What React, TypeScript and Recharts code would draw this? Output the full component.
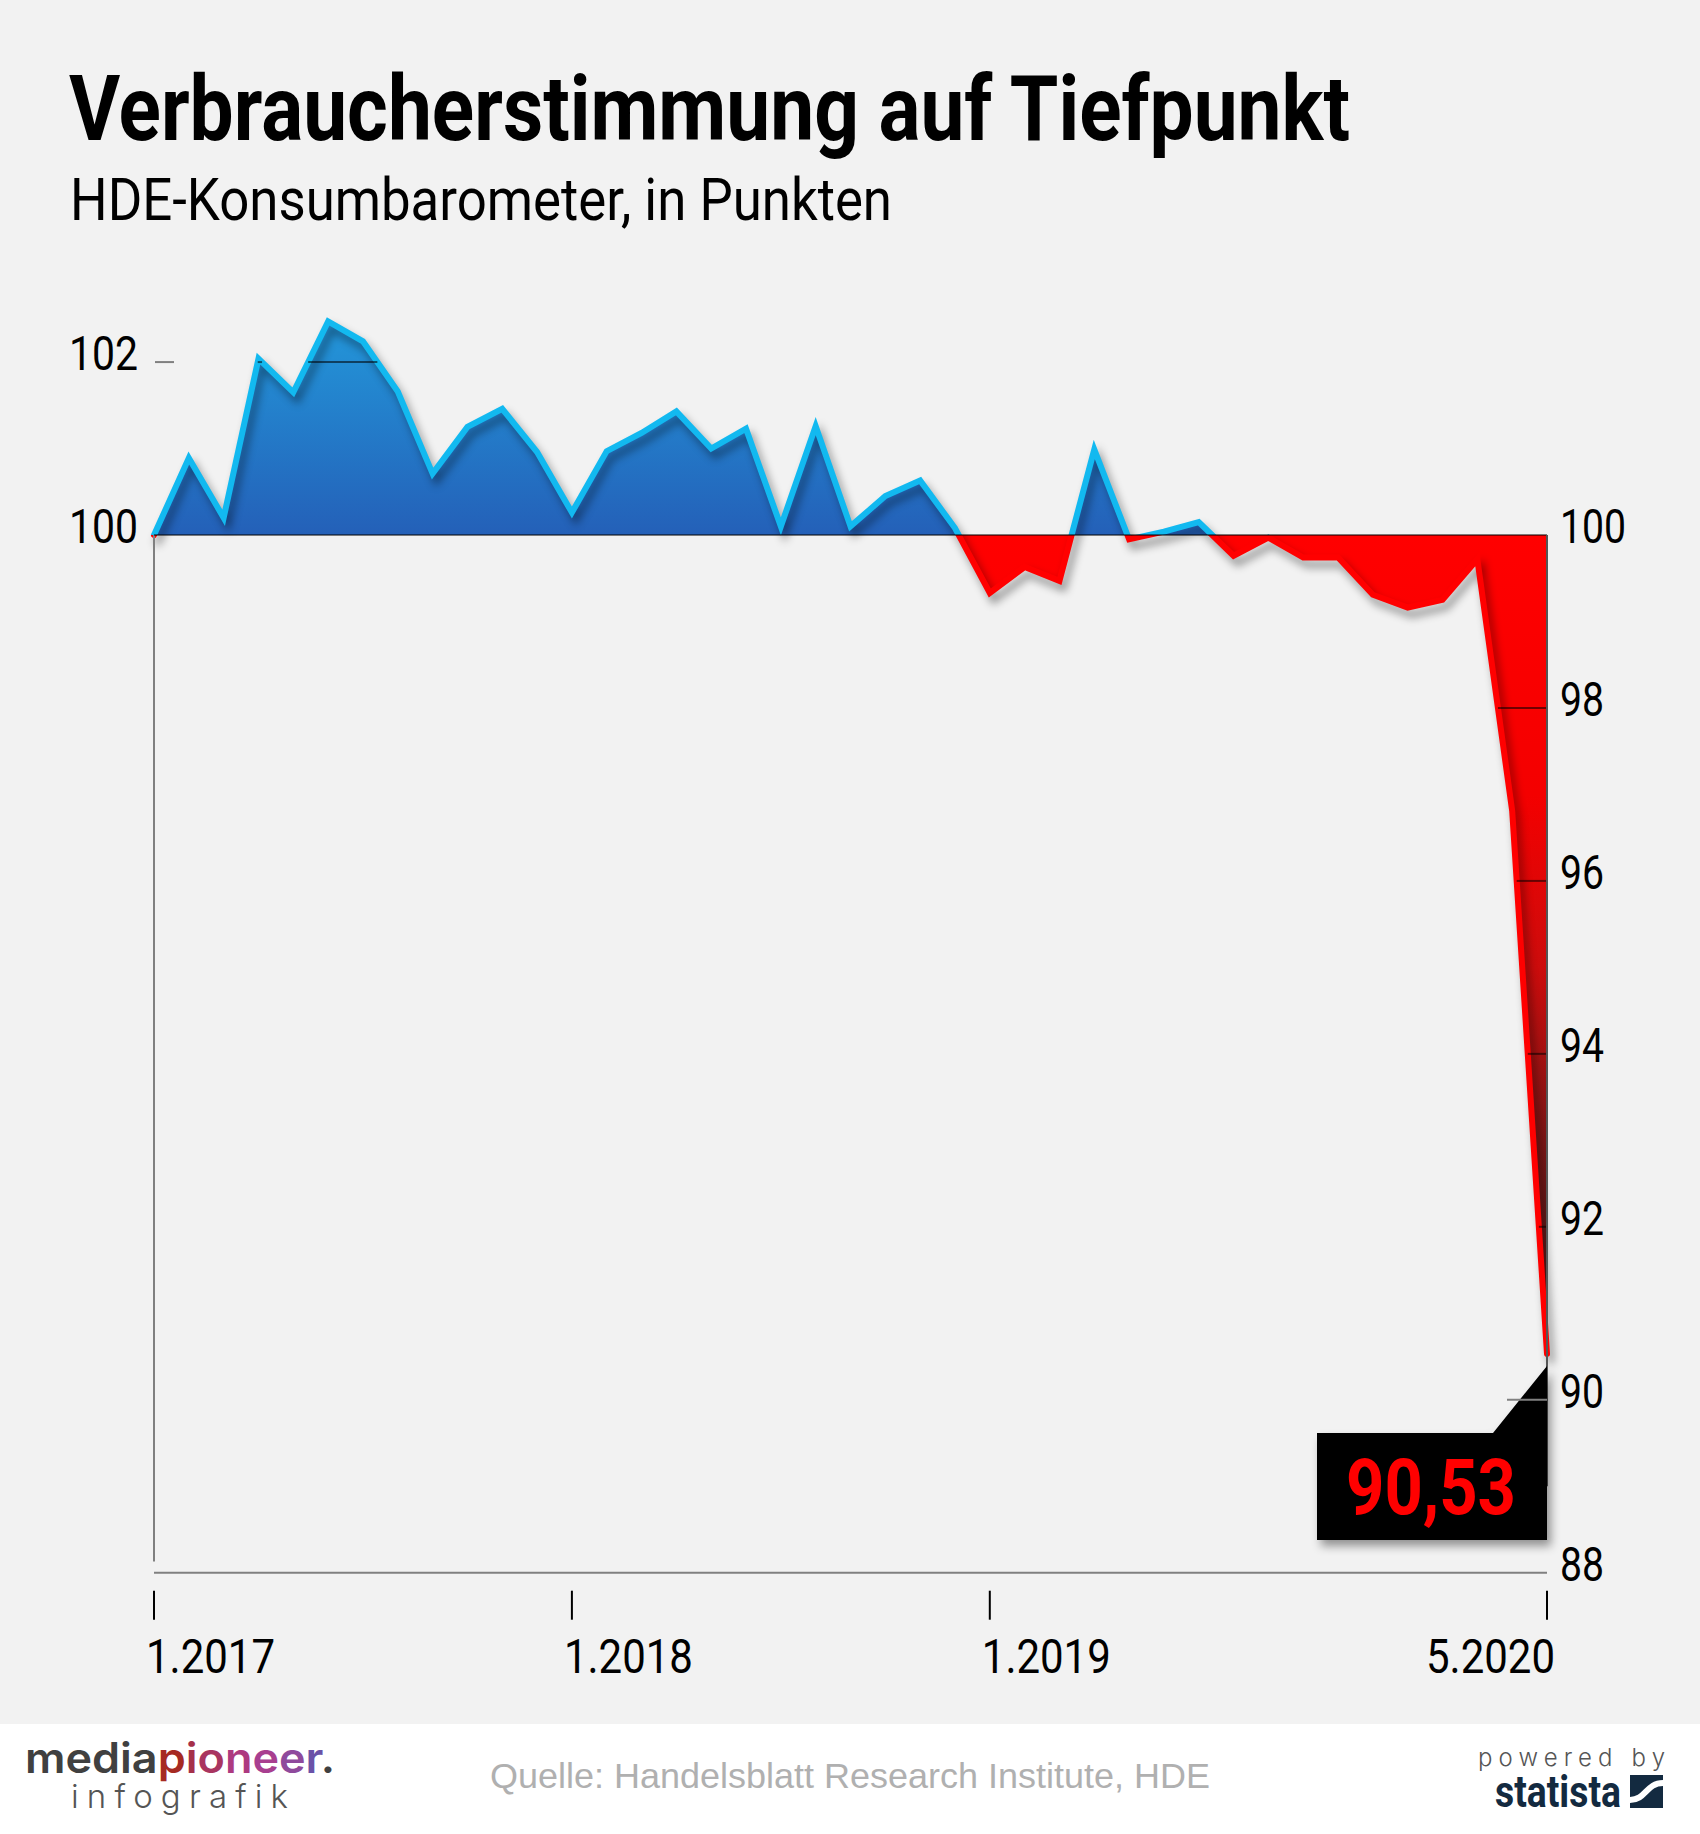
import { Area, AreaChart, ReferenceDot, ReferenceLine, XAxis, YAxis } from "recharts";

const barometer = [
  100.0, 100.89, 100.2, 102.04, 101.65, 102.47, 102.24, 101.66, 100.71, 101.25,
  101.46, 100.96, 100.26, 100.97, 101.18, 101.43, 101.0, 101.23, 100.1, 101.26,
  100.1, 100.45, 100.63, 100.08, 99.33, 99.63, 99.47, 100.99, 99.95, 100.04,
  100.15, 99.76, 99.97, 99.74, 99.74, 99.31, 99.16, 99.25, 99.72, 96.81,
  90.53,
];
const xTicks = [0, 12, 24, 40];
const xLabels = ["1.2017", "1.2018", "1.2019", "5.2020"];
const leftTicks = [100, 102];
const rightTicks = [88, 90, 92, 94, 96, 98, 100];
const gridLevels = [102, 98, 96, 94, 92];

const BASE = 100;
const rows = barometer.map((value, month) => ({ month, value }));
const maxV = Math.max(...barometer);
const minV = Math.min(...barometer);
const offsetOf = (v: number) => (maxV - v) / (maxV - minV);

// parts of a grid level that lie inside the filled area
function spansInside(level: number) {
  const beyond = (v: number) => (level > BASE ? v >= level : v <= level);
  const spans: { from: number; to: number }[] = [];
  for (let i = 0; i < barometer.length - 1; i++) {
    const a = barometer[i];
    const b = barometer[i + 1];
    if (!beyond(a) && !beyond(b)) continue;
    const cross = i + (level - a) / (b - a);
    const from = beyond(a) ? i : cross;
    const to = beyond(b) ? i + 1 : cross;
    const last = spans[spans.length - 1];
    if (last && last.to === from) last.to = to;
    else spans.push({ from, to });
  }
  return spans;
}

const condensed = "Roboto, sans-serif";

function XTick({ x, y, payload, index }: any) {
  const last = payload.value === xTicks[xTicks.length - 1];
  return (
    <g>
      <line x1={x} x2={x} y1={y + 18} y2={y + 47} stroke="#000" strokeWidth={2} />
      <text
        x={last ? x + 8 : x - 8}
        y={y + 100}
        textAnchor={last ? "end" : "start"}
        fontFamily={condensed}
        fontSize={48}
        textLength={129}
        lengthAdjust="spacingAndGlyphs"
        fill="#000"
      >
        {xLabels[index]}
      </text>
    </g>
  );
}

function LeftTick({ x, y, payload }: any) {
  return (
    <g>
      {payload.value !== BASE && (
        <line x1={x + 1} x2={x + 20} y1={y} y2={y} stroke="#808080" strokeWidth={2} />
      )}
      <text
        x={x - 16}
        y={y + 8}
        textAnchor="end"
        fontFamily={condensed}
        fontSize={48}
        textLength={69}
        lengthAdjust="spacingAndGlyphs"
        fill="#000"
      >
        {payload.value}
      </text>
    </g>
  );
}

function RightTick({ x, y, payload }: any) {
  const label = String(payload.value);
  return (
    <g>
      {payload.value === 90 && (
        <line x1={x - 40} x2={x} y1={y} y2={y} stroke="#808080" strokeWidth={2} />
      )}
      <text
        x={x + 13}
        y={y + 8}
        fontFamily={condensed}
        fontSize={48}
        textLength={label.length * 22}
        lengthAdjust="spacingAndGlyphs"
        fill="#000"
      >
        {label}
      </text>
    </g>
  );
}

function Callout({ cx, cy }: any) {
  const pts = [
    [cx, cy + 12],
    [cx, cy + 186],
    [cx - 230, cy + 186],
    [cx - 230, cy + 79],
    [cx - 54, cy + 79],
  ];
  return (
    <g>
      <polygon
        points={pts.map((p) => p.join(",")).join(" ")}
        fill="#000"
        style={{ filter: "drop-shadow(4px 6px 5px rgba(0,0,0,0.4))" }}
      />
      <text
        x={cx - 201}
        y={cy + 160}
        fontFamily={condensed}
        fontWeight={700}
        fontSize={77}
        textLength={170}
        lengthAdjust="spacingAndGlyphs"
        fill="#ff0000"
      >
        90,53
      </text>
    </g>
  );
}

const pioneer = [
  ["media", "#404040"],
  ["p", "#a62a22"],
  ["i", "#a5304a"],
  ["o", "#a93560"],
  ["n", "#ad3a80"],
  ["e", "#a83f90"],
  ["e", "#8f4a9c"],
  ["r", "#6a52a8"],
  [".", "#404040"],
];

function Texts() {
  return (
    <svg width={1700} height={1834} style={{ position: "absolute", left: 0, top: 0 }}>
      <text x={69} y={140} fontFamily={condensed} fontWeight={700} fontSize={90} textLength={1281} lengthAdjust="spacingAndGlyphs" fill="#000">
        Verbraucherstimmung auf Tiefpunkt
      </text>
      <text x={70} y={220} fontFamily={condensed} fontSize={59.5} textLength={822} lengthAdjust="spacingAndGlyphs" fill="#000">
        HDE-Konsumbarometer, in Punkten
      </text>
      <text x={490} y={1788} fontFamily="'Liberation Sans', sans-serif" fontSize={35} textLength={720} lengthAdjust="spacingAndGlyphs" fill="#b0b0b0">
        Quelle: Handelsblatt Research Institute, HDE
      </text>
      <text x={25} y={1773} fontFamily="Inter, sans-serif" fontWeight={600} fontSize={42} textLength={310} lengthAdjust="spacingAndGlyphs">
        {pioneer.map(([part, colour], i) => (
          <tspan key={i} fill={colour}>{part}</tspan>
        ))}
      </text>
      <text x={71} y={1808} fontFamily="Inter, sans-serif" fontWeight={300} fontSize={33} textLength={217} lengthAdjust="spacing" fill="#555">
        infografik
      </text>
      <text x={1478} y={1766} fontFamily="Inter, sans-serif" fontWeight={300} fontSize={24} textLength={187} lengthAdjust="spacing" fill="#555">
        powered by
      </text>
      <text x={1495} y={1807} fontFamily={condensed} fontWeight={700} fontSize={44} textLength={126} lengthAdjust="spacingAndGlyphs" fill="#132a40">
        statista
      </text>
      <rect x={1630} y={1775} width={33} height={33} fill="#132a40" />
      <path d="M1630 1800 C1646 1800 1646 1783 1663 1783" fill="none" stroke="#fff" strokeWidth={6} />
    </svg>
  );
}

export default function App() {
  return (
    <div style={{ position: "relative", width: 1700, height: 1834, background: "#f2f2f2", overflow: "hidden" }}>
      <style>{`body{margin:0}.recharts-area-curve{filter:drop-shadow(4px 7px 4px rgba(0,0,0,0.42))}`}</style>
      <div style={{ position: "absolute", left: 0, top: 1724, width: 1700, height: 110, background: "#fff" }} />
      <Texts />
      <div style={{ position: "absolute", left: 0, top: 0 }}>
        <AreaChart
          width={1700}
          height={1834}
          data={rows}
          margin={{ top: 275.6, right: 0, bottom: 161.3, left: 0 }}
        >
          <defs>
            <linearGradient id="areaFill" x1="0" y1="0" x2="0" y2="1">
              <stop offset={offsetOf(102.2)} stopColor="#2391d6" />
              <stop offset={offsetOf(BASE)} stopColor="#2460b8" />
              <stop offset={offsetOf(BASE)} stopColor="#ff0000" />
              <stop offset={offsetOf(97)} stopColor="#f40000" />
              <stop offset={offsetOf(95)} stopColor="#cc0c0c" />
              <stop offset={offsetOf(93)} stopColor="#7d1616" />
              <stop offset={offsetOf(91)} stopColor="#4d1a1a" />
            </linearGradient>
            <linearGradient id="lineStroke" x1="0" y1="0" x2="0" y2="1">
              <stop offset={offsetOf(BASE)} stopColor="#12b9f0" />
              <stop offset={offsetOf(BASE)} stopColor="#ff0000" />
            </linearGradient>
          </defs>
          <XAxis
            type="number"
            dataKey="month"
            domain={[0, 40]}
            ticks={xTicks}
            height={100}
            tickSize={0}
            tickMargin={0}
            interval={0}
            axisLine={{ stroke: "#808080", strokeWidth: 2 }}
            tickLine={false}
            tick={<XTick />}
          />
          <YAxis
            yAxisId="left"
            domain={[88, 103]}
            ticks={leftTicks}
            width={154}
            tickSize={0}
            tickMargin={0}
            axisLine={false}
            tickLine={false}
            tick={<LeftTick />}
          />
          <YAxis
            yAxisId="right"
            orientation="right"
            domain={[88, 103]}
            ticks={rightTicks}
            width={153}
            tickSize={0}
            tickMargin={0}
            axisLine={false}
            tickLine={false}
            tick={<RightTick />}
          />
          <ReferenceLine
            yAxisId="left"
            segment={[{ x: 0, y: BASE }, { x: 0, y: 88.13 }]}
            stroke="#808080"
            strokeWidth={2}
          />
          {/* keeps the right axis alive, draws nothing */}
          <Area
            yAxisId="right"
            dataKey="value"
            type="linear"
            baseValue={BASE}
            fill="none"
            stroke="none"
            dot={false}
            activeDot={false}
            isAnimationActive={false}
          />
          <Area
            yAxisId="left"
            dataKey="value"
            type="linear"
            baseValue={BASE}
            fill="url(#areaFill)"
            fillOpacity={1}
            stroke="url(#lineStroke)"
            strokeWidth={6}
            strokeLinejoin="miter"
            strokeLinecap="round"
            dot={false}
            activeDot={false}
            isAnimationActive={false}
          />
          {gridLevels.flatMap((level) =>
            spansInside(level).map((s, i) => (
              <ReferenceLine
                key={`${level}-${i}`}
                yAxisId="left"
                segment={[{ x: s.from, y: level }, { x: s.to, y: level }]}
                stroke="#000"
                strokeOpacity={0.55}
                strokeWidth={2}
              />
            ))
          )}
          <ReferenceLine yAxisId="left" y={BASE} stroke="#000" strokeOpacity={0.5} strokeWidth={2} />
          <ReferenceLine
            yAxisId="left"
            segment={[{ x: 40, y: BASE }, { x: 40, y: 89 }]}
            stroke="#555"
            strokeWidth={2}
          />
          <ReferenceDot
            yAxisId="left"
            x={40}
            y={barometer[barometer.length - 1]}
            shape={<Callout />}
          />
        </AreaChart>
      </div>
    </div>
  );
}
